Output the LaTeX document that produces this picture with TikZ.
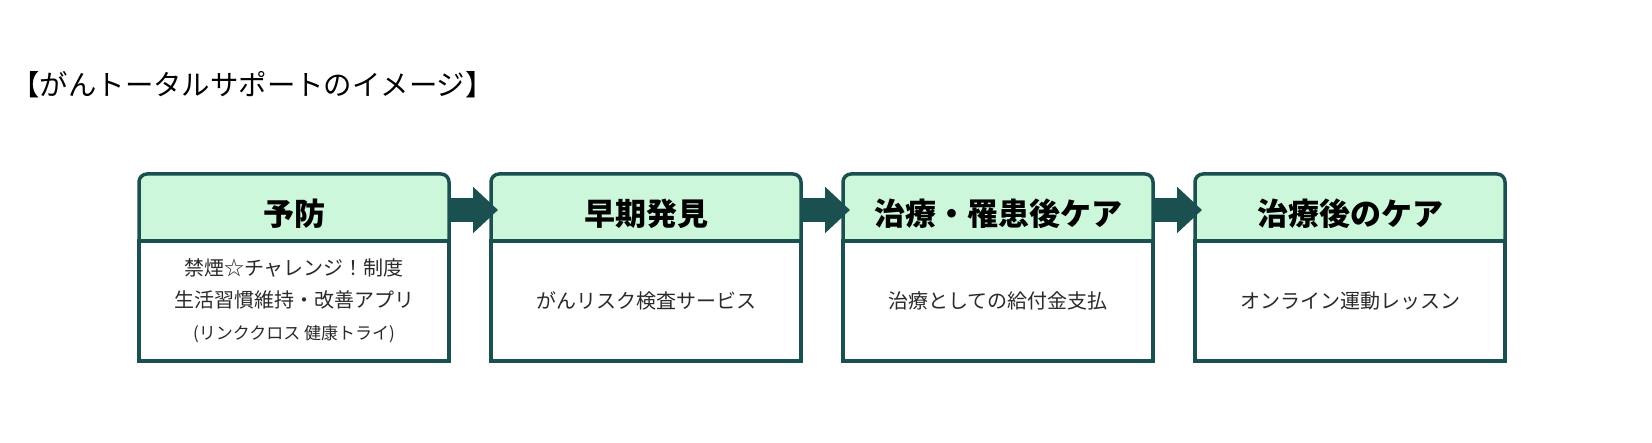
\documentclass[tikz,border=0pt]{standalone}
\usepackage{fontspec}
\newfontfamily\jp{Noto Sans CJK JP}
\usetikzlibrary{arrows.meta,positioning}
\definecolor{frameteal}{HTML}{1A5050}
\definecolor{headmint}{HTML}{CCF7DA}
\definecolor{bodytext}{HTML}{2A2A2A}

\begin{document}
\begin{tikzpicture}[
    x=0.5pt, y=-0.5pt,
    node distance=21pt,
    head/.style={rectangle, draw=frameteal, fill=headmint, line width=1.75pt, rounded corners=4pt, minimum width=155pt, minimum height=39.5pt, outer sep=0pt, font=\jp\bfseries\fontsize{15.5}{18}\selectfont},
    body/.style={rectangle, draw=frameteal, fill=white, line width=1.75pt, minimum width=155pt, minimum height=60pt, outer sep=0pt, align=center, text=bodytext, font=\jp\fontsize{10}{16}\selectfont},
    flow/.style={-{Triangle[length=12.5pt, width=22.5pt]}, line width=12pt, draw=frameteal},
    title/.style={font=\jp\fontsize{14.2}{17}\selectfont, anchor=west, inner sep=0pt},
  ]
    \useasboundingbox (0,0) rectangle (1652,443);

    \node[title] (ttl) at (11,85) {【がんトータルサポートのイメージ】};

    % stage headers
    \node[head] (h1) at (294,213.5) {予防};
    \node[head, right=of h1] (h2) {早期発見};
    \node[head, right=of h2] (h3) {治療・罹患後ケア};
    \node[head, right=of h3] (h4) {治療後のケア};

    % stage contents
    \node[body, below=-6pt of h1] (b1) {禁煙☆チャレンジ！制度\\生活習慣維持・改善アプリ\\{\fontsize{8.5}{16}\selectfont (リンククロス\ 健康トライ)}};
    \node[body, below=-6pt of h2] (b2) {がんリスク検査サービス};
    \node[body, below=-6pt of h3] (b3) {治療としての給付金支払};
    \node[body, below=-6pt of h4] (b4) {オンライン運動レッスン};

    \draw[flow] ([yshift=1.75pt]h1.east) -- ([xshift=3.5pt, yshift=1.75pt]h2.west);
    \draw[flow] ([yshift=1.75pt]h2.east) -- ([xshift=3.5pt, yshift=1.75pt]h3.west);
    \draw[flow] ([yshift=1.75pt]h3.east) -- ([xshift=3.5pt, yshift=1.75pt]h4.west);
  \end{tikzpicture}
\end{document}
